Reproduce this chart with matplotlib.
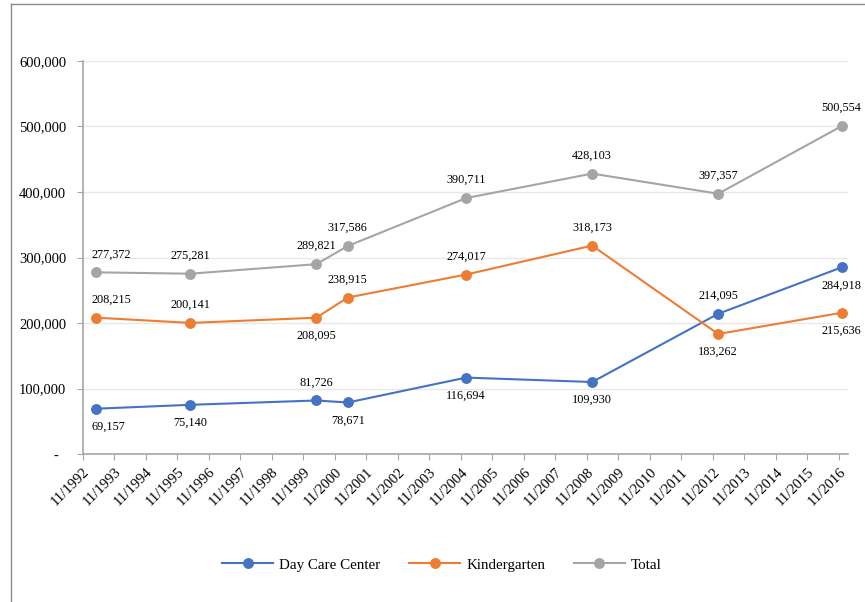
import matplotlib
matplotlib.use("Agg")
import matplotlib.pyplot as plt
from matplotlib.lines import Line2D
from datetime import datetime

# ---- data ----
dates = ["1993-04", "1996-04", "2000-04", "2001-04", "2005-01", "2009-01", "2013-01", "2016-12"]
day_care = [69157, 75140, 81726, 78671, 116694, 109930, 214095, 284918]
kindergarten = [208215, 200141, 208095, 238915, 274017, 318173, 183262, 215636]
total = [277372, 275281, 289821, 317586, 390711, 428103, 397357, 500554]
# label placement: 1 = above point, -1 = below point
day_care_pos = [-1, -1, 1, -1, -1, -1, 1, -1]
kindergarten_pos = [1, 1, -1, 1, 1, 1, -1, -1]
total_pos = [1, 1, 1, 1, 1, 1, 1, 1]
tick_years = list(range(1992, 2017))
y_ticks = [0, 100000, 200000, 300000, 400000, 500000, 600000]

series = [
    ("Day Care Center", day_care, day_care_pos, "#4472C4"),
    ("Kindergarten", kindergarten, kindergarten_pos, "#ED7D31"),
    ("Total", total, total_pos, "#A5A5A5"),
]

plt.rcParams["font.family"] = ["Liberation Serif", "DejaVu Serif"]

x = [datetime.strptime(d, "%Y-%m") for d in dates]

fig = plt.figure(figsize=(8.65, 6.02), dpi=100)
ax = fig.add_axes([0.0956, 0.2458, 0.8844, 0.6529])

for name, vals, pos, col in series:
    ax.plot(x, vals, color=col, lw=1.5, marker="o", markersize=6.8, label=name, zorder=3)
    for i, (xi, v, p) in enumerate(zip(x, vals, pos)):
        if i == 0:
            # first labels are kept inside the plot area
            ax.annotate(f"{v:,}", (xi, v), xytext=(-3, 13 * p), textcoords="offset points",
                        ha="left", va="center", fontsize=8.8, color="#000000")
        else:
            ax.annotate(f"{v:,}", (xi, v), xytext=(0, 13 * p), textcoords="offset points",
                        ha="center", va="center", fontsize=8.8, color="#000000")

ax.set_ylim(0, 600000)
ax.set_xlim(datetime(1992, 11, 1), datetime(2017, 2, 10))
ax.set_yticks(y_ticks)
ax.set_yticklabels(["-  " if v == 0 else f"{v:,}" for v in y_ticks], fontsize=10.5)
ax.yaxis.grid(True, color="#E8E8E8", lw=1)
ax.set_axisbelow(True)

xt = [datetime(y, 11, 1) for y in tick_years]
ax.set_xticks(xt)
ax.set_xticklabels([f"11/{y}" for y in tick_years], rotation=45, ha="right",
                   rotation_mode="anchor", fontsize=10.5)

for s in ["top", "right"]:
    ax.spines[s].set_visible(False)
for s in ["left", "bottom"]:
    ax.spines[s].set_color("#A6A6A6")
    ax.spines[s].set_linewidth(1.2)
ax.tick_params(axis="y", length=4, color="#A6A6A6", pad=8)
ax.tick_params(axis="x", length=4, color="#A6A6A6", pad=4)

fig.legend(loc="center", bbox_to_anchor=(0.511, 0.0615), ncol=3, frameon=False,
           fontsize=10.8, handlelength=3.4, handletextpad=0.4, columnspacing=1.9)

# outer frame (left and top edges visible)
fig.add_artist(Line2D([11 / 865, 11 / 865], [0, 1 - 4 / 602], transform=fig.transFigure,
                      color="#8C8C8C", lw=1))
fig.add_artist(Line2D([11 / 865, 1], [1 - 4 / 602, 1 - 4 / 602], transform=fig.transFigure,
                      color="#8C8C8C", lw=1))

fig.savefig("out.png", dpi=100)
